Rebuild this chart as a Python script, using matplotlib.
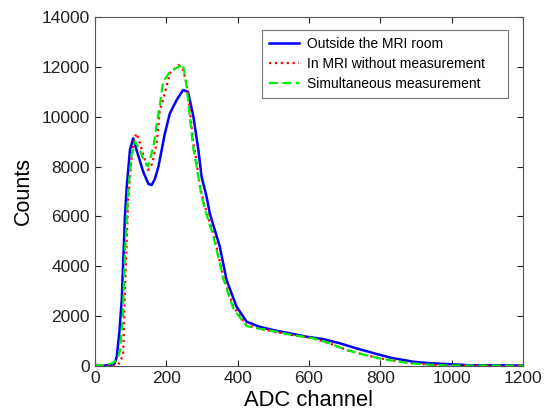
import matplotlib
matplotlib.use('Agg')
import matplotlib.pyplot as plt

plt.rcParams['font.family'] = ['Liberation Sans', 'DejaVu Sans']

# Outside the MRI room
x_out = [0, 40, 55, 61, 68, 75, 84, 89, 98, 107, 118, 135, 150, 159, 168, 178, 196, 210, 229, 247,
         261, 276, 290, 299, 313, 322, 350, 369, 397, 425, 460, 500, 550, 593, 640, 687, 730, 780,
         830, 892, 940, 986, 1050, 1200]
y_out = [0, 30, 100, 373, 1300, 2650, 5990, 7190, 8660, 9130, 8600, 7800, 7300, 7260, 7500, 8000,
         9330, 10130, 10670, 11070, 11000, 10000, 8660, 7590, 6790, 6120, 4790, 3450, 2380, 1780,
         1580, 1440, 1300, 1175, 1080, 910, 720, 520, 330, 173, 110, 80, 30, 20]

# In MRI without measurement
x_in = [0, 50, 65, 72, 79, 84, 93, 103, 110, 117, 125, 135, 149, 160, 173, 182, 191, 210, 222, 234,
        247, 257, 266, 276, 285, 290, 299, 308, 332, 360, 388, 425, 460, 500, 550, 612, 660, 705,
        750, 799, 850, 892, 950, 1000, 1200]
y_in = [0, 0, 60, 200, 500, 3000, 6660, 8400, 9100, 9330, 9000, 8500, 7860, 8100, 8930, 10270,
        10670, 11740, 11900, 12070, 11870, 11340, 10270, 8930, 8200, 7590, 6930, 6400, 5320, 3580,
        2380, 1640, 1500, 1380, 1250, 1110, 900, 640, 470, 307, 190, 107, 40, 20, 10]

# Simultaneous measurement
x_sim = [0, 30, 50, 62, 70, 78, 84, 93, 103, 112, 125, 135, 149, 154, 165, 173, 182, 191, 210, 222,
         234, 247, 257, 266, 276, 285, 299, 308, 332, 360, 388, 425, 460, 500, 550, 612, 660, 705,
         750, 799, 850, 892, 950, 1000, 1200]
y_sim = [0, 50, 120, 250, 600, 2000, 4500, 7000, 8500, 9000, 8700, 8300, 8000, 8270, 8900, 9700,
         10500, 11400, 11800, 11900, 12000, 12100, 11200, 10000, 8700, 8000, 6800, 6300, 5200, 3500,
         2300, 1600, 1500, 1400, 1250, 1110, 900, 640, 470, 300, 180, 100, 40, 20, 10]

fig = plt.figure(figsize=(5.44, 4.19), dpi=100)
ax = fig.add_axes([0.1746, 0.1265, 0.7866, 0.833])

ax.plot(x_out, y_out, color='#0000ff', lw=1.8, label='Outside the MRI room')
ax.plot(x_in, y_in, color='#ff0000', lw=1.6, ls=':', label='In MRI without measurement    ')
ax.plot(x_sim, y_sim, color='#00ee00', lw=1.6, ls=(0, (4, 2)), label='Simultaneous measurement')

ax.set_xlim(0, 1200)
ax.set_ylim(0, 14000)
ax.set_xticks(range(0, 1201, 200))
ax.set_yticks(range(0, 14001, 2000))
ax.tick_params(direction='in', top=True, right=True, length=4, labelsize=12.5, colors='#222222')
for s in ax.spines.values():
    s.set_color('#555555')

ax.set_xlabel('ADC channel', fontsize=15.8, labelpad=3)
ax.set_ylabel('Counts', fontsize=15.5, labelpad=6)

leg = ax.legend(loc='upper right', bbox_to_anchor=(0.965, 0.963), fontsize=10, frameon=True,
                fancybox=False, edgecolor='#555555', handlelength=2.2, handletextpad=0.6,
                borderpad=0.5, labelspacing=0.45, borderaxespad=0)
leg.get_frame().set_linewidth(0.8)

fig.savefig('out.png', dpi=100)
